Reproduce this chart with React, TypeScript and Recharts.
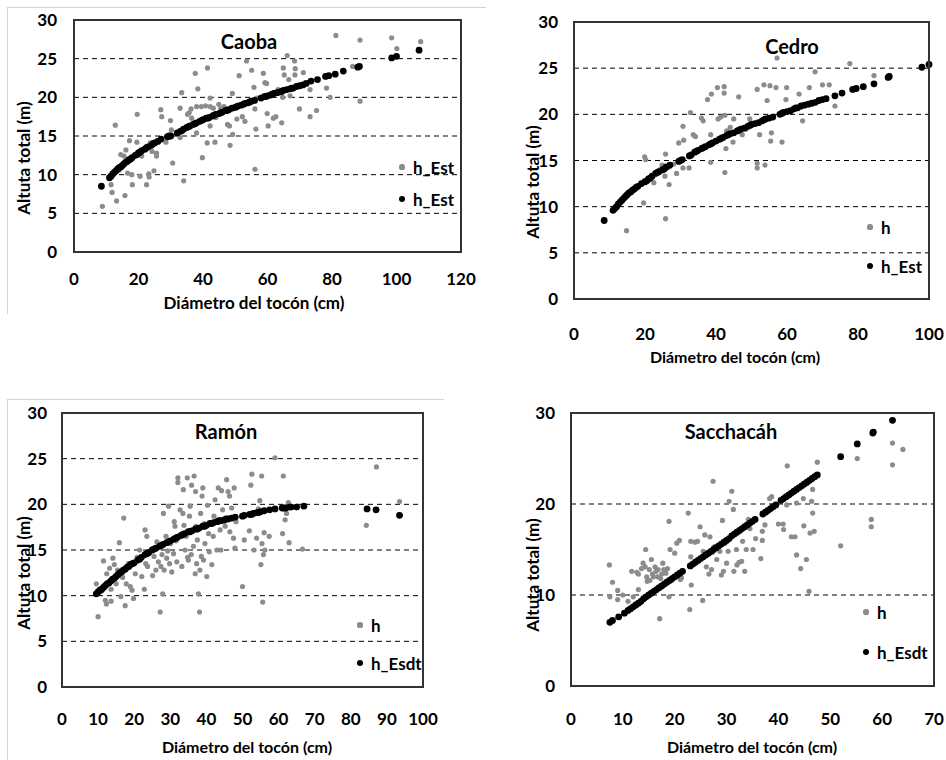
import React from 'react';
import { ScatterChart, Scatter, XAxis, YAxis, CartesianGrid } from 'recharts';

type Pt = [number, number];

// ---------- Caoba ----------
const caobaH: Pt[] = [
  [8.8,5.9],[11.8,7.7],[11.5,8.7],[13.2,6.6],[15.8,7.3],[12.8,16.4],[14.5,12.6],[15.5,12.4],[16.1,13.2],[17.2,14.4],
  [17.9,10.0],[18.1,8.7],[19.5,14.2],[20.5,9.8],[19.6,17.8],[22.5,8.7],[23.2,10.1],[23.3,9.7],[24.8,10.5],[23.6,14.1],
  [25.6,12.8],[25.6,12.4],[26.9,18.4],[27.2,17.5],[29.9,17.0],[30.2,15.8],[30.6,11.5],[32.9,14.8],[32.9,18.6],[33.4,20.6],
  [34.0,9.2],[35.2,17.8],[35.7,18.0],[36.5,17.3],[36.3,18.5],[37.6,23.1],[38.0,18.8],[38.4,21.1],[38.0,15.4],[39.5,18.8],
  [39.8,12.2],[40.8,18.9],[41.4,23.8],[41.3,14.1],[42.2,19.9],[42.2,16.3],[42.2,18.8],[43.2,18.6],[43.7,14.2],[44.9,19.1],
  [45.5,18.6],[46.5,18.8],[47.3,18.5],[47.6,16.5],[48.2,16.3],[48.4,13.8],[49.1,20.5],[49.2,15.2],[51.2,22.8],[52.2,17.5],
  [53.0,16.9],[53.5,24.7],[55.1,23.5],[55.8,21.3],[56.1,18.5],[56.4,15.9],[56.1,10.7],[56.6,19.9],[58.7,23.1],[59.2,21.9],
  [59.7,21.8],[59.9,17.9],[60.2,16.3],[61.8,17.3],[62.6,17.5],[63.3,21.0],[64.4,16.7],[64.7,20.0],[64.9,23.8],[65.2,22.9],
  [66.1,25.4],[66.6,22.3],[67.0,20.2],[68.4,24.7],[68.6,23.7],[68.5,22.9],[69.9,18.5],[71.1,23.2],[73.2,21.0],[73.2,17.5],
  [75.2,18.3],[78.3,21.2],[79.4,20.0],[81.2,28.0],[86.4,24.0],[88.7,27.4],[88.7,19.5],[98.5,27.7],[100.1,26.3],[107.5,27.2],
  [16.6,10.2],[14.0,10.6],[21.0,12.4],[24.2,13.0],[28.5,14.2],[44.0,17.4],[50.5,17.2]
];
const caobaEst: Pt[] = [
  [8.5,8.5],[11,9.6],[11.5,9.8],[12,10.1],[12.5,10.3],[13,10.5],[13.5,10.7],[14,10.9],[14.5,11.0],[15,11.2],
  [15.5,11.4],[16,11.6],[16.5,11.7],[17,11.9],[17.5,12.0],[18,12.2],[19,12.5],[19.5,12.6],[20,12.8],[20.5,12.9],
  [21,13.1],[22,13.3],[22.5,13.5],[23,13.6],[24,13.8],[24.5,14.0],[25,14.1],[26,14.3],[27,14.6],[29,14.9],
  [29.5,15.0],[30,15.0],[32,15.4],[33,15.6],[33.5,15.7],[34,15.9],[35,16.1],[35.5,16.2],[36,16.3],[37,16.5],
  [37.5,16.6],[38,16.7],[39,16.9],[39.5,17.0],[40,17.1],[41,17.3],[41.5,17.3],[42,17.4],[43,17.6],[43.5,17.7],
  [44,17.8],[45,17.9],[45.5,18.0],[46,18.1],[47,18.3],[47.5,18.3],[48,18.4],[49,18.6],[50,18.7],[50.5,18.8],
  [51,18.9],[52,19.0],[52.5,19.1],[53,19.2],[54,19.3],[54.5,19.4],[55,19.5],[56,19.6],[58,19.9],[59,20.1],
  [59.5,20.1],[60,20.2],[61,20.3],[61.5,20.4],[62,20.5],[63,20.6],[64,20.7],[64.5,20.8],[65,20.9],[66,21.0],
  [67,21.1],[67.5,21.2],[68,21.2],[69,21.4],[70,21.5],[71,21.6],[72,21.8],[73.5,22.1],[75.5,22.3],[78,22.7],
  [79,22.8],[81,23.0],[83.5,23.4],[88,23.9],[88.5,24.0],[98.5,25.1],[100,25.3],[107,26.1]
];

// ---------- Cedro ----------
const cedroH: Pt[] = [
  [14.8,7.4],[19.6,10.4],[19.9,15.4],[20.2,15.1],[22.5,12.6],[24.8,14.5],[25.8,15.7],[25.8,8.7],[25.6,13.3],[26.8,12.4],
  [26.8,14.3],[28.9,13.6],[29.5,16.9],[30.7,14.2],[30.7,18.7],[30.9,17.2],[32.4,14.2],[32.8,20.2],[33.6,17.8],[35.9,19.6],
  [36.4,19.3],[37.6,21.6],[38.7,22.2],[38.5,17.8],[38.5,14.8],[40.4,22.9],[40.6,19.5],[41.3,19.7],[42.3,23.0],[42.3,22.3],
  [42.5,19.9],[42.5,13.7],[42.8,16.3],[43.0,18.2],[44.8,17.0],[45.0,19.5],[46.4,21.9],[47.4,17.8],[49.5,19.5],[51.6,22.7],
  [51.6,14.2],[51.6,14.7],[52.3,17.8],[53.5,23.2],[53.8,14.5],[54.4,21.5],[55.2,23.1],[55.4,17.1],[55.6,18.0],[56.9,22.9],
  [57.2,26.1],[58.6,17.0],[59.7,21.6],[59.9,22.9],[63.4,22.2],[64.4,19.3],[66.3,22.9],[67.9,24.6],[70.0,23.2],[71.9,23.2],
  [73.5,20.9],[77.7,25.5],[84.5,24.2],[34.2,17.6],[24.0,14.0],[28.0,14.6],[48.5,18.4],[44.0,18.6]
];
const cedroEst: Pt[] = [
  [8.5,8.5],[11,9.6],[11.5,9.8],[12,10.0],[12.5,10.3],[13,10.5],[13.5,10.7],[14,10.9],[14.5,11.1],[15,11.3],
  [15.5,11.5],[16,11.6],[16.5,11.8],[17,11.9],[17.5,12.1],[18,12.2],[19,12.5],[20,12.7],[20.5,12.8],[21,13.0],
  [21.5,13.1],[22,13.3],[23,13.6],[23.5,13.7],[24,13.8],[25,14.0],[25.5,14.1],[26,14.3],[27,14.5],[29.5,14.9],
  [30,15.0],[30.5,15.1],[32.5,15.5],[33,15.6],[34,15.9],[34.5,16.0],[35,16.1],[36,16.3],[36.5,16.4],[37,16.5],
  [38,16.7],[38.5,16.8],[39,16.9],[40,17.1],[41,17.3],[41.5,17.4],[42,17.5],[43,17.7],[43.5,17.8],[44,17.9],
  [45,18.0],[46,18.2],[46.5,18.3],[47,18.4],[48,18.5],[49,18.7],[49.5,18.8],[50,18.9],[51,19.0],[52,19.1],
  [53,19.3],[53.5,19.4],[54,19.5],[55,19.6],[56,19.7],[58,20.0],[58.5,20.1],[59,20.2],[60,20.3],[61,20.4],
  [62,20.6],[62.5,20.7],[63,20.7],[64,20.9],[65,21.0],[66,21.1],[67,21.2],[68,21.3],[69,21.5],[70,21.6],
  [71,21.7],[73.5,22.0],[75.5,22.3],[78.5,22.7],[79.5,22.8],[81.5,23.0],[84.5,23.3],[88.5,24.0],[88.8,24.1],[98,25.1],
  [100,25.4]
];

// ---------- Ramón ----------
const ramonH: Pt[] = [
  [9.5,11.3],[10.0,7.7],[11.5,13.8],[12.3,9.1],[12.0,9.5],[12.4,12.4],[13.2,13.0],[13.6,9.4],[13.6,10.7],[14.1,14.1],
  [14.5,13.4],[14.7,12.1],[15.0,11.3],[15.4,12.8],[15.9,15.8],[16.3,9.9],[17.1,18.5],[17.5,8.9],[17.8,11.3],[18.4,13.5],
  [18.9,11.0],[19.4,10.6],[19.8,9.7],[20.3,12.4],[21.5,15.0],[22.1,12.1],[22.8,10.7],[23.0,17.2],[23.2,13.5],[23.5,16.5],
  [23.7,13.2],[24.0,14.8],[25.1,12.2],[25.5,14.3],[26.3,15.9],[26.7,13.7],[27.2,8.2],[27.4,13.2],[27.7,14.5],[27.9,10.2],
  [28.1,19.0],[28.3,12.8],[28.8,16.5],[29.0,14.1],[29.5,19.8],[29.8,13.5],[30.1,15.7],[30.4,12.6],[30.9,14.6],[31.1,18.1],
  [31.3,17.6],[31.8,13.7],[32.1,22.9],[32.1,22.4],[32.5,16.5],[32.7,19.4],[33.2,13.2],[33.5,19.0],[33.6,21.6],[33.8,17.7],
  [34.1,15.0],[34.4,16.5],[34.7,22.9],[35.0,13.9],[35.3,18.7],[35.5,19.8],[35.8,14.5],[35.9,22.1],[36.2,17.2],[36.6,23.1],
  [36.9,12.4],[37.0,21.4],[37.1,17.6],[37.3,13.5],[37.5,16.1],[37.8,10.2],[38.1,8.2],[38.2,12.8],[38.4,19.0],[38.6,14.3],
  [38.8,20.9],[39.0,21.8],[39.2,13.9],[39.4,17.9],[39.6,15.7],[40.1,12.1],[40.3,19.9],[40.8,14.8],[41.5,13.4],[41.9,16.5],
  [42.1,18.7],[42.4,20.5],[42.9,15.0],[43.3,21.8],[43.8,17.2],[44.0,15.0],[44.2,21.5],[44.5,19.4],[44.9,18.1],[45.6,22.7],
  [46.0,21.4],[46.4,20.9],[46.5,17.0],[47.0,19.6],[47.5,16.3],[47.7,21.8],[47.9,15.2],[48.2,18.1],[50.0,11.0],[50.5,16.1],
  [51.9,17.1],[52.3,22.1],[52.6,23.3],[53.2,15.0],[53.9,16.3],[54.4,19.5],[54.8,20.4],[55.1,13.4],[55.3,23.1],[55.4,15.7],
  [55.6,9.3],[55.8,14.5],[56.0,16.9],[56.2,15.0],[57.4,16.5],[59.0,25.1],[61.1,16.8],[61.3,23.1],[61.8,18.3],[62.2,19.0],
  [62.7,20.2],[62.9,15.8],[66.6,15.1],[84.3,17.7],[87.1,24.1],[93.5,20.3],
  [11.0,10.5],[16.8,12.0],[20.8,14.2],[26.0,12.8],[29.3,14.9],[31.6,16.0],[34.8,14.2],[36.4,15.4],[40.6,16.8],[45.2,17.6]
];
const ramonEst: Pt[] = [
  [9.5,10.2],[10,10.4],[10.5,10.6],[11,10.7],[11.5,10.9],[12,11.1],[12.5,11.3],[13,11.4],[13.5,11.6],[14,11.8],
  [14.5,11.9],[15,12.1],[15.5,12.3],[16,12.5],[16.5,12.6],[17,12.8],[17.5,12.9],[18,13.1],[18.5,13.2],[19,13.4],
  [19.5,13.5],[20,13.6],[21,13.9],[21.5,14.0],[22,14.2],[23,14.5],[23.5,14.6],[24,14.7],[25,15.0],[25.5,15.1],
  [26,15.2],[27,15.4],[27.5,15.5],[28,15.6],[29,15.8],[29.5,15.9],[30,16.0],[31,16.2],[31.5,16.3],[32,16.4],
  [33,16.6],[33.5,16.7],[34,16.8],[35,17.0],[35.5,17.0],[36,17.1],[37,17.3],[37.5,17.3],[38,17.4],[39,17.6],
  [39.5,17.6],[40,17.7],[41,17.9],[41.5,17.9],[42,18.0],[43,18.1],[43.5,18.2],[44,18.2],[45,18.3],[45.5,18.4],
  [46,18.4],[47,18.5],[48,18.6],[50,18.7],[50.5,18.8],[52,18.9],[52.5,18.9],[53,19.0],[54,19.1],[54.5,19.1],
  [55,19.2],[56,19.3],[57.5,19.4],[59,19.5],[61,19.6],[61.5,19.6],[62,19.6],[63,19.7],[63.5,19.7],[65,19.7],
  [67,19.8],[84.5,19.5],[87,19.4],[93.5,18.8]
];

// ---------- Sacchacáh ----------
const sacchH: Pt[] = [
  [7.4,13.3],[7.5,9.8],[8.0,11.4],[9.0,10.5],[9.0,9.5],[10.0,10.0],[11.0,9.3],[11.7,12.6],[12.0,9.8],[12.7,12.5],
  [13.0,12.3],[13.0,10.6],[13.9,13.5],[14.3,13.1],[14.4,15.0],[14.6,12.0],[14.7,11.5],[15.1,12.8],[15.2,11.6],[15.5,13.9],
  [15.7,12.3],[16.2,13.1],[16.4,12.6],[16.7,12.0],[16.8,12.8],[17.1,7.4],[17.3,11.8],[17.7,13.5],[17.9,12.8],[18.3,12.4],
  [18.6,12.9],[18.9,18.1],[18.9,9.8],[19.1,15.0],[19.4,11.6],[20.0,14.6],[20.4,15.7],[20.9,16.0],[21.1,11.7],[22.6,19.0],
  [22.9,8.4],[23.1,14.2],[23.2,11.1],[23.1,15.9],[23.9,15.8],[24.4,15.9],[24.9,17.5],[25.4,9.4],[25.5,14.8],[25.8,16.6],
  [26.1,13.1],[26.6,12.3],[26.8,16.4],[27.1,12.8],[27.3,14.7],[27.4,22.5],[27.6,15.3],[28.1,13.9],[28.7,14.8],[29.0,12.2],
  [29.2,18.2],[29.4,12.6],[29.7,15.7],[30.0,13.5],[30.3,14.8],[30.5,20.3],[31.0,21.4],[31.3,19.4],[31.4,12.6],[31.9,15.0],
  [32.0,13.3],[32.4,13.6],[32.9,13.7],[33.1,15.9],[33.5,12.6],[33.8,15.0],[34.2,18.3],[34.5,17.3],[35.1,15.0],[35.6,16.2],
  [36.6,14.0],[36.9,17.0],[36.9,16.0],[37.4,17.7],[37.8,19.1],[38.3,20.6],[38.7,20.8],[40.0,17.8],[40.9,17.8],[41.0,17.2],
  [41.6,19.9],[41.7,24.2],[42.5,16.4],[43.2,16.4],[43.5,14.4],[43.5,20.1],[44.3,12.9],[44.8,20.6],[44.9,17.6],[45.4,13.9],
  [45.9,10.4],[46.1,16.8],[46.4,20.3],[46.6,21.6],[46.6,19.0],[46.9,17.0],[47.5,24.6],[52.0,15.4],[55.2,25.0],[57.9,18.3],
  [57.9,17.5],[62.0,26.7],[62.0,24.3],[64.0,26.0],
  [13.6,12.9],[15.9,12.0],[17.5,12.3],[19.8,12.0],[21.3,11.9]
];
const sacchEst: Pt[] = [
  [7.5,7.0],[8,7.2],[9.2,7.6],[10.3,8.0],[11,8.3],[11.5,8.5],[12,8.7],[12.5,8.9],[13,9.1],[13.5,9.3],
  [14,9.6],[14.5,9.8],[15,10.0],[15.5,10.2],[16,10.4],[16.5,10.6],[17,10.8],[17.5,11.0],[18,11.2],[18.5,11.4],
  [19,11.6],[19.5,11.8],[20,12.0],[20.5,12.2],[21,12.4],[21.5,12.6],[23,13.2],[23.5,13.4],[24,13.6],[24.5,13.8],
  [25,14.0],[25.5,14.2],[26,14.4],[26.5,14.6],[27,14.8],[27.5,15.0],[28,15.2],[28.5,15.4],[29,15.6],[29.5,15.8],
  [30,16.0],[30.5,16.2],[31,16.5],[31.5,16.7],[32,16.9],[32.5,17.1],[33,17.3],[33.5,17.5],[34,17.7],[34.5,17.9],
  [35,18.1],[35.5,18.3],[37,18.9],[37.5,19.1],[38,19.3],[38.5,19.5],[39,19.7],[39.5,19.9],[40.5,20.4],[41,20.6],
  [41.5,20.8],[42,21.0],[42.5,21.2],[43,21.4],[43.5,21.6],[44,21.8],[44.5,22.0],[45,22.2],[45.5,22.4],[46,22.6],
  [46.5,22.8],[47,23.0],[47.5,23.2],[52,25.2],[55.2,26.6],[58.2,27.8],[58.3,27.9],[62,29.2]
];

// ---------- Axes / labels ----------
const ticks0to30by5 = [0, 5, 10, 15, 20, 25, 30];
const ticks0to30by10 = [0, 10, 20, 30];
const caobaXTicks = [0, 20, 40, 60, 80, 100, 120];
const cedroXTicks = [0, 20, 40, 60, 80, 100];
const ramonXTicks = [0, 10, 20, 30, 40, 50, 60, 70, 80, 90, 100];
const sacchXTicks = [0, 10, 20, 30, 40, 50, 60, 70];

const yTitle = 'Altuta total (m)';
const xTitle = 'Diámetro del tocón (cm)';

const FONT = "Lato, 'Open Sans', 'DejaVu Sans', sans-serif";
const GRAY = '#8c8c8c';
const FRAME = '#333333';

const toData = (a: Pt[]) => a.map(([x, y]) => ({ x, y }));

const grayDot = (p: any) => <circle cx={p.cx} cy={p.cy} r={2.6} fill={GRAY} />;
const blackDot = (p: any) => <circle cx={p.cx} cy={p.cy} r={3.4} fill="#000" />;

interface Layout {
  l: number; t: number; w: number; h: number;
  margin: { top: number; right: number; bottom: number; left: number };
  yw: number; xh: number; xTickMargin: number; yTickMargin: number;
}

const layout1: Layout = { l: 0, t: 0, w: 480, h: 320, margin: { top: 20, right: 19, bottom: 28, left: 14 }, yw: 60, xh: 40, xTickMargin: 15, yTickMargin: 11 };
const layout2: Layout = { l: 480, t: 0, w: 466, h: 370, margin: { top: 22, right: 17, bottom: 11, left: 34 }, yw: 60, xh: 60, xTickMargin: 23, yTickMargin: 10 };
const layout3: Layout = { l: 0, t: 370, w: 480, h: 390, margin: { top: 43, right: 57, bottom: 23, left: 12 }, yw: 50, xh: 50, xTickMargin: 20, yTickMargin: 9 };
const layout4: Layout = { l: 480, t: 370, w: 466, h: 390, margin: { top: 43, right: 12, bottom: 24, left: 31 }, yw: 60, xh: 50, xTickMargin: 21, yTickMargin: 10 };

const plotBox = (L: Layout) => ({
  x: L.l + L.margin.left + L.yw,
  y: L.t + L.margin.top,
  w: L.w - L.margin.left - L.margin.right - L.yw,
  h: L.h - L.margin.top - L.margin.bottom - L.xh,
});

interface PanelProps {
  L: Layout;
  xMax: number; xTicks: number[]; yTicks: number[];
  obs: Pt[]; est: Pt[];
}

function Panel({ L, xMax, xTicks, yTicks, obs, est }: PanelProps) {
  const tickStyle = { fill: '#000', fontSize: 17, fontWeight: 700, fontFamily: FONT };
  return (
    <div style={{ position: 'absolute', left: L.l, top: L.t, width: L.w, height: L.h }}>
      <ScatterChart width={L.w} height={L.h} margin={L.margin}>
        <CartesianGrid horizontal vertical={false} stroke="#000" strokeDasharray="5 4" />
        <XAxis
          type="number" dataKey="x" domain={[0, xMax]} ticks={xTicks} interval={0}
          tickLine={false} axisLine={{ stroke: FRAME, strokeWidth: 2 }} tickMargin={L.xTickMargin}
          height={L.xh} tick={tickStyle}
        />
        <YAxis
          type="number" dataKey="y" domain={[0, 30]} ticks={yTicks} interval={0}
          tickLine={false} axisLine={{ stroke: FRAME, strokeWidth: 2 }} tickMargin={L.yTickMargin}
          width={L.yw} tick={tickStyle}
        />
        <Scatter name="h" data={toData(obs)} shape={grayDot} isAnimationActive={false} />
        <Scatter name="h_Est" data={toData(est)} shape={blackDot} isAnimationActive={false} />
      </ScatterChart>
    </div>
  );
}

function Txt({ x, y, size, children, rotate }: { x: number; y: number; size: number; children: React.ReactNode; rotate?: boolean }) {
  return (
    <div
      style={{
        position: 'absolute', left: x, top: y, fontSize: size, fontWeight: 700, fontFamily: FONT,
        color: '#000', whiteSpace: 'nowrap', lineHeight: 1,
        transform: `translate(-50%, -50%)${rotate ? ' rotate(-90deg)' : ''}`,
      }}
    >
      {children}
    </div>
  );
}

function LegendItem({ x, y, color, r, label }: { x: number; y: number; color: string; r: number; label: string }) {
  return (
    <>
      <div style={{ position: 'absolute', left: x - r, top: y - r, width: 2 * r, height: 2 * r, borderRadius: '50%', background: color }} />
      <div style={{ position: 'absolute', left: x + 11, top: y, transform: 'translateY(-50%)', fontSize: 17, fontWeight: 700, fontFamily: FONT, lineHeight: 1, whiteSpace: 'nowrap', color: '#000' }}>
        {label}
      </div>
    </>
  );
}

export default function App() {
  const boxes = [layout1, layout2, layout3, layout4].map(plotBox);
  return (
    <div style={{ position: 'absolute', left: 0, top: 0, width: 946, height: 760, background: '#fff' }}>
      <Panel L={layout1} xMax={120} xTicks={caobaXTicks} yTicks={ticks0to30by5} obs={caobaH} est={caobaEst} />
      <Panel L={layout2} xMax={100} xTicks={cedroXTicks} yTicks={ticks0to30by5} obs={cedroH} est={cedroEst} />
      <Panel L={layout3} xMax={100} xTicks={ramonXTicks} yTicks={ticks0to30by5} obs={ramonH} est={ramonEst} />
      <Panel L={layout4} xMax={70} xTicks={sacchXTicks} yTicks={ticks0to30by10} obs={sacchH} est={sacchEst} />

      {/* outer light frames and plot-area frames */}
      {boxes.map((b, i) => (
        <div
          key={i}
          style={{
            position: 'absolute', left: b.x - 1, top: b.y - 1, width: b.w + 2, height: b.h + 2,
            border: `2px solid ${FRAME}`, boxSizing: 'border-box', pointerEvents: 'none',
          }}
        />
      ))}
      <div style={{ position: 'absolute', left: 7, top: 7, width: 478, height: 306, borderTop: '1px solid #d4d4d4', borderLeft: '1px solid #d4d4d4', pointerEvents: 'none' }} />
      <div style={{ position: 'absolute', left: 7, top: 399, width: 436, height: 361, borderTop: '1px solid #d4d4d4', borderLeft: '1px solid #d4d4d4', pointerEvents: 'none' }} />

      {/* titles */}
      <Txt x={249} y={41} size={20}>Caoba</Txt>
      <Txt x={792} y={46} size={20}>Cedro</Txt>
      <Txt x={226} y={431} size={20}>Ramón</Txt>
      <Txt x={731} y={431} size={20}>Sacchacáh</Txt>

      {/* axis titles */}
      <Txt x={23} y={158} size={17} rotate>{yTitle}</Txt>
      <Txt x={532} y={182} size={17} rotate>{yTitle}</Txt>
      <Txt x={23} y={573} size={17} rotate>{yTitle}</Txt>
      <Txt x={532} y={575} size={17} rotate>{yTitle}</Txt>
      <Txt x={254} y={302} size={17}>{xTitle}</Txt>
      <Txt x={735} y={357} size={16}>{xTitle}</Txt>
      <Txt x={247} y={747} size={16}>{xTitle}</Txt>
      <Txt x={752} y={747} size={16}>{xTitle}</Txt>

      {/* legends */}
      <LegendItem x={402} y={167} color={GRAY} r={2.6} label="h_Est" />
      <LegendItem x={402} y={199} color="#000" r={3.4} label="h_Est" />
      <LegendItem x={870} y={227} color={GRAY} r={2.6} label="h" />
      <LegendItem x={870} y={266} color="#000" r={3.4} label="h_Est" />
      <LegendItem x={360} y={625} color={GRAY} r={2.6} label="h" />
      <LegendItem x={360} y={663} color="#000" r={3.4} label="h_Esdt" />
      <LegendItem x={866} y={612} color={GRAY} r={2.6} label="h" />
      <LegendItem x={866} y={652} color="#000" r={3.4} label="h_Esdt" />
    </div>
  );
}
